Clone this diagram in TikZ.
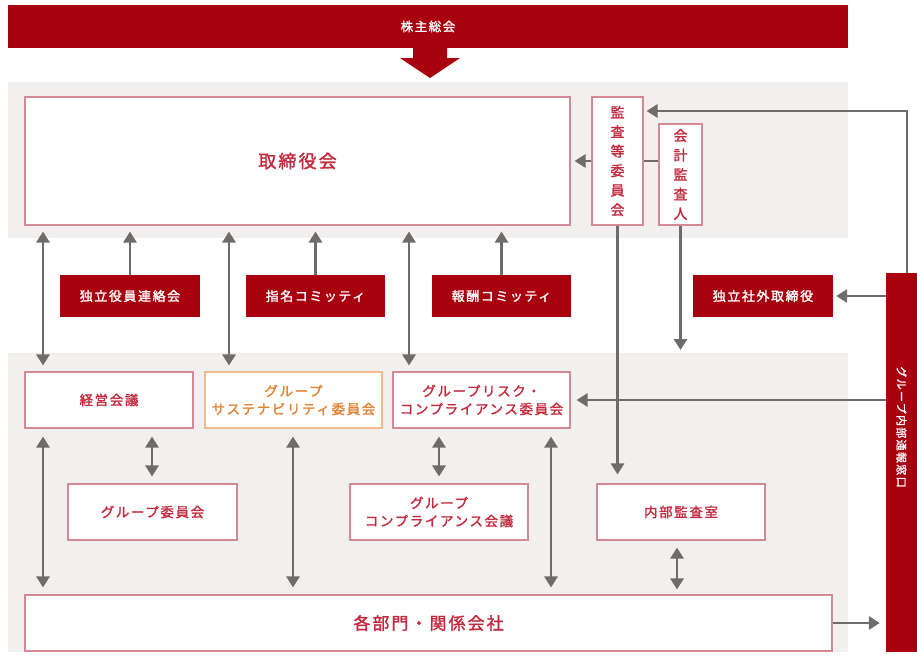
\documentclass[tikz,border=0pt]{standalone}
\usepackage{fontspec}
\newfontfamily\jp{Noto Sans CJK JP}[LetterSpace=12,FakeBold=1.6]
\newfontfamily\jpv{Noto Sans CJK JP}[FakeBold=1.6]
\usetikzlibrary{arrows.meta,calc}
\definecolor{cred}{HTML}{A8000F}
\definecolor{ctext}{HTML}{C42A3E}
\definecolor{cbord}{HTML}{D48A95}
\definecolor{corange}{HTML}{E38233}
\definecolor{cobord}{HTML}{F2B98F}
\definecolor{cgray}{HTML}{6E6C6A}
\definecolor{cpanel}{HTML}{F1F0EF}
\begin{document}
\begin{tikzpicture}[x=1pt,y=-1pt,
 redbox/.style={fill=cred,text=white,inner sep=0pt,font=\jp\fontsize{13}{15}\selectfont},
 wbox/.style={fill=white,draw=cbord,line width=1.1pt,text=ctext,inner sep=0pt,align=center,font=\jp\fontsize{13.5}{18}\selectfont},
 obox/.style={wbox,draw=cobord,text=corange},
 vbox/.style={wbox,font=\jpv\fontsize{14}{19.5}\selectfont},
 conn/.style={draw=cgray,line width=2.8pt},
 arr/.style={conn,-{Triangle[width=13pt,length=11pt]}},
 darr/.style={conn,{Triangle[width=13pt,length=11pt]}-{Triangle[width=13pt,length=11pt]}},
]
\path[use as bounding box] (0,0) rectangle (917,657);
% panels
\fill[cpanel] (8,82) rectangle (848,238);
\fill[cpanel] (8,353) rectangle (848,652);
% banner
\node[redbox,minimum width=840pt,minimum height=43pt,font=\jp\fontsize{12.5}{14}\selectfont] (banner) at (428,26.5) {株主総会};
\fill[cred] (413,48) -- (447,48) -- (447,58) -- (460,58) -- (430,78) -- (400,58) -- (413,58) -- cycle;
% top row
\node[wbox,minimum width=545pt,minimum height=128pt,font=\jp\fontsize{18}{20}\selectfont] (board) at (297.5,161) {取締役会};
\node[vbox,minimum width=51pt,minimum height=128pt] (kansa) at (617.5,161) {監\\査\\等\\委\\員\\会};
\node[vbox,minimum width=43pt,minimum height=101pt] (kaikei) at (680.5,174.5) {会\\計\\監\\査\\人};
% red boxes
\node[redbox,minimum width=140pt,minimum height=42pt] (dokuritsu) at (130,296) {独立役員連絡会};
\node[redbox,minimum width=139pt,minimum height=42pt] (shimei) at (315.5,296) {指名コミッティ};
\node[redbox,minimum width=139pt,minimum height=42pt] (hoshu) at (501.5,296) {報酬コミッティ};
\node[redbox,minimum width=140pt,minimum height=42pt] (shagai) at (763,296) {独立社外取締役};
% right bar
\node[fill=cred,minimum width=31pt,minimum height=379pt,inner sep=0pt] (bar) at (901.5,462.5) {};
\node[rotate=-90,text=white,inner sep=0pt,font=\jp\fontsize{11}{12}\selectfont] (bartext) at (901.5,427) {グループ内部通報窓口};
% second row
\node[wbox,minimum width=168pt,minimum height=56pt] (keiei) at (109,400) {経営会議};
\node[obox,minimum width=177pt,minimum height=56pt] (susta) at (293.5,400) {グループ\\サステナビリティ委員会};
\node[wbox,minimum width=177pt,minimum height=56pt] (risk) at (481.5,400) {グループリスク・\\コンプライアンス委員会};
% third row
\node[wbox,minimum width=169pt,minimum height=56pt] (gkai) at (152.5,512) {グループ委員会};
\node[wbox,minimum width=178pt,minimum height=56pt] (gcomp) at (439,512) {グループ\\コンプライアンス会議};
\node[wbox,minimum width=168pt,minimum height=56pt] (naibu) at (681,512) {内部監査室};
% bottom
\node[wbox,minimum width=807pt,minimum height=56pt,font=\jp\fontsize{17}{19}\selectfont] (bottom) at (428.5,623) {各部門・関係会社};
% helper coordinates
\coordinate (x43) at (43,0);
\coordinate (x229) at (229,0);
\coordinate (x409) at (409,0);
\coordinate (x152) at (152,0);
\coordinate (x293) at (293,0);
\coordinate (x439) at (439,0);
\coordinate (x551) at (551,0);
\coordinate (x677) at (677,0);
\coordinate (c1) at (907,111);
\coordinate (kdown) at (680.5,350);
% connectors top
\draw[arr,shorten >=4pt] (kansa.west) -- (board.east);
\draw[conn] (kaikei.west |- kansa.east) -- (kansa.east);
\draw[arr,shorten >=3pt] (bar.north -| c1) -- (c1) -- (kansa.east |- c1);
\draw[arr,shorten >=9pt] (kansa.south) -- (kansa.south |- naibu.north);
\draw[arr] (kaikei.south) -- (kdown);
\draw[arr,shorten >=3pt] (bar.west |- shagai.east) -- (shagai.east);
\draw[arr,shorten >=6pt] (bar.west |- risk.east) -- (risk.east);
\draw[arr,shorten >=6pt] (bottom.east) -- (bar.west |- bottom.east);
% red boxes up
\draw[arr,shorten >=6pt] (dokuritsu.north) -- (dokuritsu.north |- board.south);
\draw[arr,shorten >=6pt] (shimei.north) -- (shimei.north |- board.south);
\draw[arr,shorten >=6pt] (hoshu.north) -- (hoshu.north |- board.south);
% board <-> row2
\draw[darr,shorten <=6pt,shorten >=6pt] (board.south -| x43) -- (keiei.north -| x43);
\draw[darr,shorten <=6pt,shorten >=6pt] (board.south -| x229) -- (susta.north -| x229);
\draw[darr,shorten <=6pt,shorten >=6pt] (board.south -| x409) -- (risk.north -| x409);
% row2 <-> lower
\draw[darr,shorten <=8pt,shorten >=7pt] (keiei.south -| x43) -- (bottom.north -| x43);
\draw[darr,shorten <=8pt,shorten >=7pt] (keiei.south -| x152) -- (gkai.north -| x152);
\draw[darr,shorten <=8pt,shorten >=7pt] (susta.south -| x293) -- (bottom.north -| x293);
\draw[darr,shorten <=8pt,shorten >=7pt] (risk.south -| x439) -- (gcomp.north -| x439);
\draw[darr,shorten <=8pt,shorten >=7pt] (risk.south -| x551) -- (bottom.north -| x551);
\draw[darr,shorten <=7pt,shorten >=5pt] (naibu.south -| x677) -- (bottom.north -| x677);
\end{tikzpicture}
\end{document}
